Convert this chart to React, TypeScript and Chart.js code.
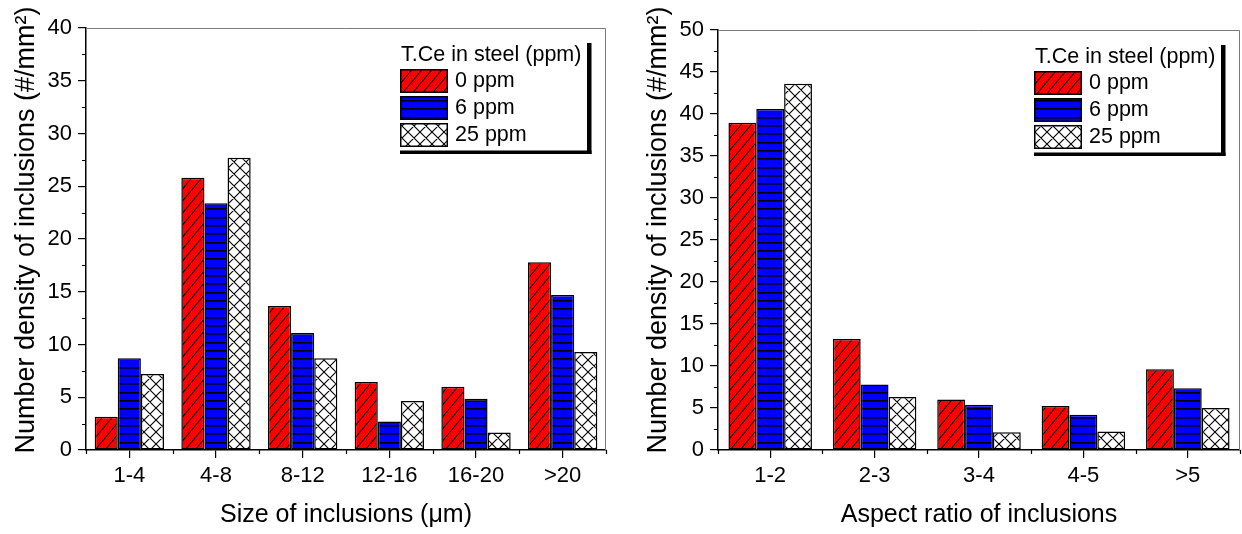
import React, { useEffect, useRef } from 'react';
import { Chart, registerables } from 'chart.js';

Chart.register(...registerables);

// ---------- data ----------
const sizeCategories = ['1-4', '4-8', '8-12', '12-16', '16-20', '>20'];
const sizeCe0 = [3.15, 25.8, 13.65, 6.45, 6.0, 17.8];
const sizeCe6 = [8.7, 23.4, 11.1, 2.7, 4.85, 14.7];
const sizeCe25 = [7.2, 27.7, 8.7, 4.65, 1.65, 9.3];
const sizeYMax = 40;

const ratioCategories = ['1-2', '2-3', '3-4', '4-5', '>5'];
const ratioCe0 = [38.95, 13.2, 6.0, 5.25, 9.6];
const ratioCe6 = [40.6, 7.8, 5.4, 4.2, 7.35];
const ratioCe25 = [43.6, 6.3, 2.1, 2.2, 5.0];
const ratioYMax = 50;

const yTickStep = 5;
const seriesLabels = ['0 ppm', '6 ppm', '25 ppm'];
const legendTitle = 'T.Ce in steel (ppm)';
const yAxisTitle = 'Number density of inclusions (#/mm²)';
const sizeAxisTitle = 'Size of inclusions (μm)';
const ratioAxisTitle = 'Aspect ratio of inclusions';

const FONT = "'Liberation Sans', Arial, sans-serif";

type Kind = 'diag' | 'horiz' | 'cross';

function makePattern(kind: Kind): CanvasPattern {
  const c = document.createElement('canvas');
  let w = 10;
  let h = 12;
  if (kind === 'cross') {
    w = 12;
    h = 12;
  } else if (kind === 'horiz') {
    w = 8;
    h = 25;
  }
  c.width = w;
  c.height = h;
  const g = c.getContext('2d')!;
  g.fillStyle = kind === 'diag' ? '#ff0000' : kind === 'horiz' ? '#0000ff' : '#ffffff';
  g.fillRect(0, 0, w, h);
  g.fillStyle = '#000';
  g.strokeStyle = '#000';
  g.lineWidth = 1.1;
  if (kind === 'horiz') {
    for (const r of [0, 8, 17]) {
      g.fillStyle = '#000';
      g.fillRect(0, r, w, 1);
      g.fillStyle = '#000060';
      g.fillRect(0, r + 1, w, 1);
    }
  } else {
    g.beginPath();
    for (let k = -1; k <= 1; k++) {
      const o = k * w;
      // "/" lines through (o, h) and (o + w, 0)
      g.moveTo(o - 0.3 * w, h + 0.3 * h);
      g.lineTo(o + 1.3 * w, -0.3 * h);
      if (kind === 'cross') {
        // "\" lines through (o, 0) and (o + w, h)
        g.moveTo(o - 0.3 * w, -0.3 * h);
        g.lineTo(o + 1.3 * w, h + 0.3 * h);
      }
    }
    g.stroke();
  }
  return g.createPattern(c, 'repeat')!;
}

const decorPlugin = {
  id: 'decor',
  afterDraw(chart: any, _args: any, opts: any) {
    const ctx: CanvasRenderingContext2D = chart.ctx;
    const { left, right, top, bottom } = chart.chartArea;
    const ys = chart.scales.y;
    const n = chart.data.labels.length;
    ctx.save();
    // top/right frame
    ctx.strokeStyle = '#7a7a7a';
    ctx.lineWidth = 1;
    ctx.beginPath();
    ctx.moveTo(left, top + 0.5);
    ctx.lineTo(right - 0.5, top + 0.5);
    ctx.lineTo(right - 0.5, bottom);
    ctx.stroke();

    // minor ticks
    ctx.strokeStyle = '#000';
    ctx.lineWidth = 1.2;
    ctx.beginPath();
    for (let i = 0; i <= n; i++) {
      const x = Math.round(left + (i * (right - left)) / n) + 0.5;
      ctx.moveTo(x, bottom);
      ctx.lineTo(x, bottom + 4);
    }
    for (let v = yTickStep / 2; v < ys.max; v += yTickStep) {
      const y = Math.round(ys.getPixelForValue(v)) + 0.5;
      ctx.moveTo(left, y);
      ctx.lineTo(left - 4, y);
    }
    ctx.stroke();

    // y axis title
    ctx.save();
    ctx.translate(opts.yTitleX, opts.yTitleY);
    ctx.rotate(-Math.PI / 2);
    ctx.fillStyle = '#000';
    ctx.font = `27px ${FONT}`;
    ctx.textAlign = 'center';
    ctx.textBaseline = 'middle';
    ctx.fillText(yAxisTitle, 0, 0);
    ctx.restore();

    // legend
    const R = right;
    const T = top;
    ctx.fillStyle = '#000';
    ctx.fillRect(R - 19, T + 15, 4.5, 111);
    ctx.fillRect(R - 206, T + 122.5, 191.5, 3.5);
    ctx.font = `21.5px ${FONT}`;
    ctx.textAlign = 'left';
    ctx.textBaseline = 'middle';
    ctx.fillText(legendTitle, R - 205, T + 27);
    const pats = opts.patterns as CanvasPattern[];
    for (let i = 0; i < 3; i++) {
      const y = T + 41 + i * 27;
      ctx.fillStyle = pats[i];
      ctx.fillRect(R - 206, y, 48, 24);
      ctx.strokeStyle = '#000';
      ctx.lineWidth = 1.5;
      ctx.strokeRect(R - 206 + 0.75, y + 0.75, 46.5, 22.5);
      ctx.fillStyle = '#000';
      ctx.fillText(seriesLabels[i], R - 151, y + 12.5);
    }
    ctx.restore();
  },
};

interface Props {
  categories: string[];
  s0: number[];
  s6: number[];
  s25: number[];
  yMax: number;
  xTitle: string;
  left: number;
  width: number;
  areaLeft: number;
  areaRight: number;
  areaTop: number;
  areaBottom: number;
  yTitleX: number;
  yTitleY: number;
}

function BarPanel(p: Props) {
  const ref = useRef<HTMLCanvasElement>(null);
  useEffect(() => {
    const canvas = ref.current!;
    const pats = [makePattern('diag'), makePattern('horiz'), makePattern('cross')];
    const H = 534;
    const mk = (label: string, data: number[], i: number) => ({
      label,
      data,
      backgroundColor: pats[i],
      borderColor: '#000',
      borderWidth: 1.5,
      borderSkipped: false as const,
      categoryPercentage: 0.8,
      barPercentage: 1.0,
    });
    const chart = new Chart(canvas, {
      type: 'bar',
      data: {
        labels: p.categories,
        datasets: [
          mk(seriesLabels[0], p.s0, 0),
          mk(seriesLabels[1], p.s6, 1),
          mk(seriesLabels[2], p.s25, 2),
        ],
      },
      options: {
        animation: false,
        responsive: false,
        devicePixelRatio: 1,
        layout: {
          padding: { left: 0, top: p.areaTop, right: p.width - p.areaRight, bottom: 0 },
        },
        plugins: {
          legend: { display: false },
          tooltip: { enabled: false },
          decor: { patterns: pats, yTitleX: p.yTitleX, yTitleY: p.yTitleY },
        } as any,
        scales: {
          x: {
            type: 'category',
            offset: true,
            afterFit: (s: any) => {
              s.height = H - p.areaBottom;
            },
            grid: {
              offset: false,
              drawOnChartArea: false,
              drawTicks: true,
              tickLength: 8,
              color: '#000',
              lineWidth: 1.2,
            },
            border: { display: true, color: '#000', width: 1.5 },
            ticks: {
              color: '#000',
              font: { family: FONT, size: 22 },
              padding: 5,
              maxRotation: 0,
              autoSkip: false,
            },
            title: {
              display: true,
              text: p.xTitle,
              color: '#000',
              font: { family: FONT, size: 25 },
              padding: { top: 0, bottom: 4 },
            },
          },
          y: {
            type: 'linear',
            min: 0,
            max: p.yMax,
            afterFit: (s: any) => {
              s.width = p.areaLeft;
            },
            grid: {
              drawOnChartArea: false,
              drawTicks: true,
              tickLength: 8,
              color: '#000',
              lineWidth: 1.2,
            },
            border: { display: true, color: '#000', width: 1.5 },
            ticks: {
              stepSize: yTickStep,
              color: '#000',
              font: { family: FONT, size: 22 },
              padding: 6,
            },
          },
        },
      },
      plugins: [decorPlugin as any],
    });
    return () => chart.destroy();
  }, []);
  return (
    <canvas
      ref={ref}
      width={p.width}
      height={534}
      style={{ position: 'absolute', left: p.left, top: 0, width: p.width, height: 534 }}
    />
  );
}

export default function App() {
  return (
    <div style={{ position: 'absolute', left: 0, top: 0, width: 1242, height: 534, background: '#fff' }}>
      <BarPanel
        categories={sizeCategories}
        s0={sizeCe0}
        s6={sizeCe6}
        s25={sizeCe25}
        yMax={sizeYMax}
        xTitle={sizeAxisTitle}
        left={0}
        width={615}
        areaLeft={86}
        areaRight={606}
        areaTop={28}
        areaBottom={450}
        yTitleX={27}
        yTitleY={230}
      />
      <BarPanel
        categories={ratioCategories}
        s0={ratioCe0}
        s6={ratioCe6}
        s25={ratioCe25}
        yMax={ratioYMax}
        xTitle={ratioAxisTitle}
        left={615}
        width={627}
        areaLeft={103}
        areaRight={625}
        areaTop={30}
        areaBottom={450}
        yTitleX={44}
        yTitleY={230}
      />
    </div>
  );
}
